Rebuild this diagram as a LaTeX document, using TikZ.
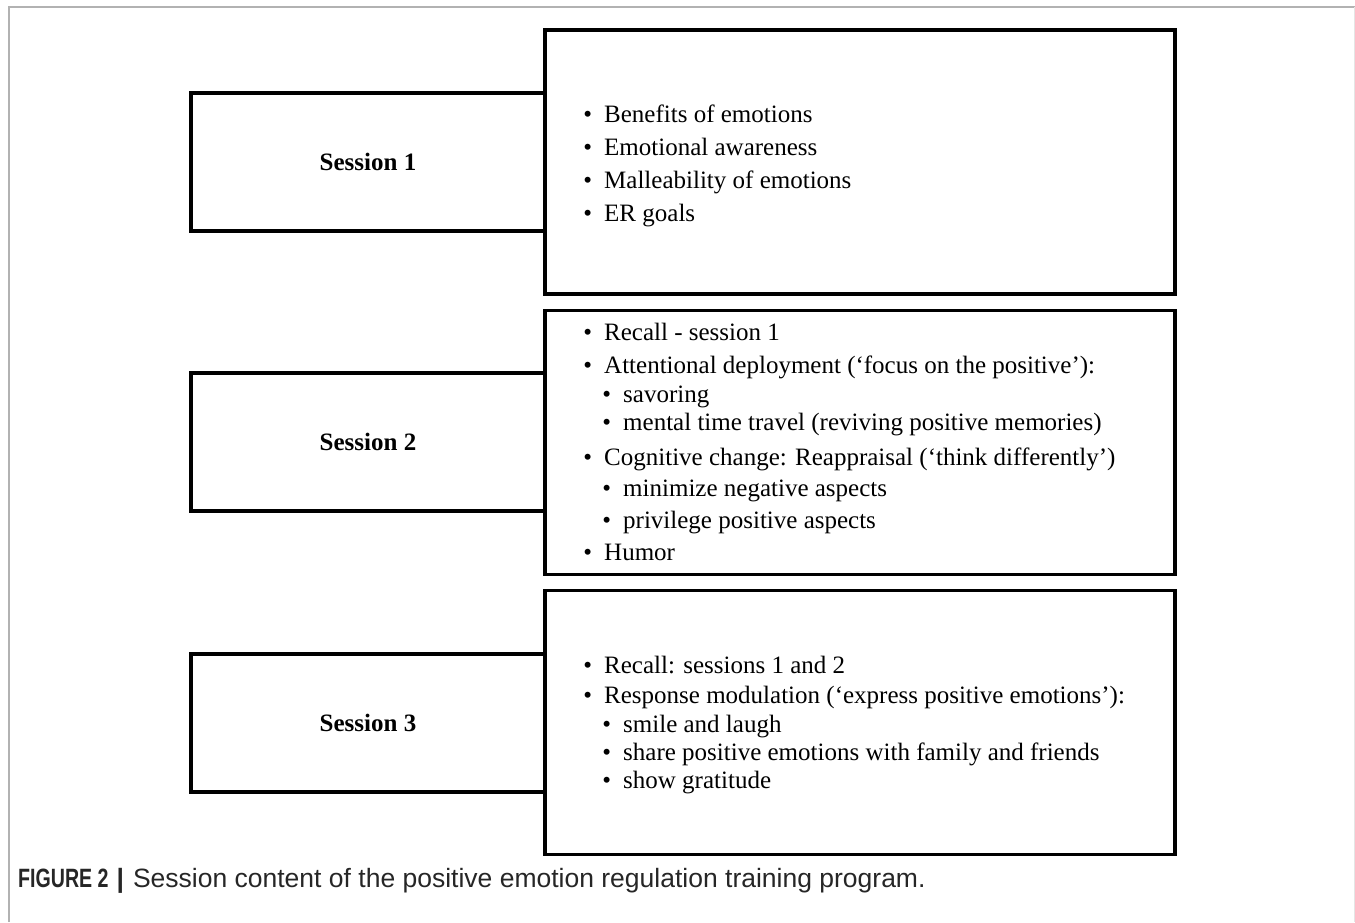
\documentclass[tikz,border=0pt]{standalone}
\usepackage{fontspec}
\setmainfont{Liberation Serif}
\newfontfamily\capfont{Liberation Sans}
\usepackage{tikz}
\usetikzlibrary{positioning}

\tikzset{
  sessbox/.style={draw, line width=3.2pt, minimum width=354pt, minimum height=138pt, font=\fontsize{25}{29}\selectfont\bfseries},
  contbox/.style={draw, line width=3.2pt, minimum width=630pt, minimum height=264pt},
  item/.style={anchor=base west, inner sep=0pt, font=\fontsize{25}{29}\selectfont, execute at begin node={\llap{\textbullet\hspace{12pt}}}}
}

\begin{document}
\begin{tikzpicture}[x=1pt,y=-1pt,line join=miter]
\useasboundingbox (0,0) rectangle (1355,922);

% frame
\draw[gray!60, line width=1.2pt] (9,922) -- (9,7) -- (1355,7);
\draw[gray!20, line width=1pt] (1354,7) -- (1354,922);

% content boxes
\node[contbox] (c1) at (860,162) {};
\node[contbox] (c2) at (860,442.5) {};
\node[contbox] (c3) at (860,722.5) {};

% session boxes
\node[sessbox] (s1) at (368,162) {Session 1};
\node[sessbox] (s2) at (368,442) {Session 2};
\node[sessbox] (s3) at (368,723) {Session 3};

% session 1
\foreach \y/\t [count=\i] in {122/Benefits of emotions, 155/Emotional awareness, 188/Malleability of emotions, 221/ER goals}
  \node[item] (a\i) at (604,\y) {\t};

% session 2
\foreach \y/\x/\t [count=\i] in {340/604/Recall - session 1, 373/604/Attentional deployment (‘focus on the positive’):, 402/623/savoring, 430/623/mental time travel (reviving positive memories), 465/604/Cognitive change: Reappraisal (‘think differently’), 496/623/minimize negative aspects, 528/623/privilege positive aspects, 560/604/Humor}
  \node[item] (b\i) at (\x,\y) {\t};

% session 3
\foreach \y/\x/\t [count=\i] in {673/604/Recall: sessions 1 and 2, 703/604/Response modulation (‘express positive emotions’):, 732/623/smile and laugh, 760/623/share positive emotions with family and friends, 788/623/show gratitude}
  \node[item] (d\i) at (\x,\y) {\t};

% caption
\node[anchor=base west, inner sep=0pt, text=black!85, font=\capfont\fontsize{26.5}{30}\selectfont] (cap) at (18,887) {\scalebox{0.74}[1]{\textbf{FIGURE 2}}\hspace{8pt}\textbf{|}\hspace{9pt}Session content of the positive emotion regulation training program.};

\end{tikzpicture}
\end{document}
